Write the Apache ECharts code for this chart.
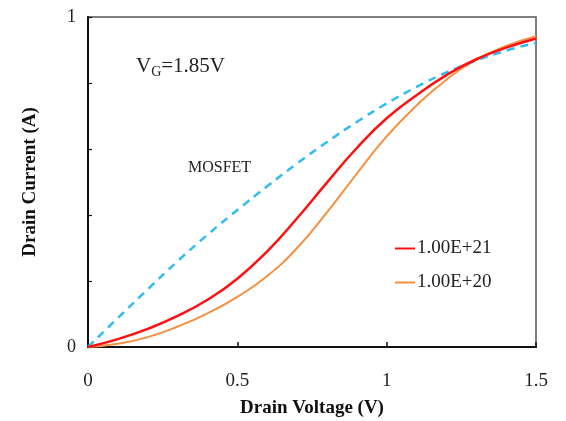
<!DOCTYPE html>
<html>
<head>
<meta charset="utf-8">
<script src="https://cdn.jsdelivr.net/npm/echarts@6/dist/echarts.min.js"></script>
<style>
  html, body { margin: 0; padding: 0; background: #fff; }
  #chart { width: 566px; height: 421px; }
</style>
</head>
<body>
<div id="chart"></div>
<script>
// drain voltage (V) sample points
const voltage = [0, 0.1, 0.2, 0.3, 0.4, 0.5, 0.6, 0.7, 0.8, 0.9, 1.0, 1.1, 1.2, 1.3, 1.4, 1.5];
// drain current, normalised
const mosfet = [0, 0.088, 0.175, 0.26, 0.34, 0.415, 0.487, 0.556, 0.621, 0.682, 0.738, 0.788, 0.832, 0.868, 0.898, 0.922];
const dop1e21 = [0, 0.024, 0.055, 0.094, 0.143, 0.207, 0.29, 0.39, 0.498, 0.603, 0.693, 0.763, 0.824, 0.872, 0.907, 0.935];
const dop1e20 = [0, 0.01, 0.03, 0.062, 0.102, 0.152, 0.215, 0.3, 0.408, 0.525, 0.638, 0.732, 0.81, 0.87, 0.912, 0.942];
const xTicks = ['0', '0.5', '1', '1.5'];
const yTicks = ['0', '1'];

const serif = '"Liberation Serif", "DejaVu Serif", serif';
const pairs = arr => voltage.map((v, i) => [v, arr[i]]);

const chart = echarts.init(document.getElementById('chart'));
chart.setOption({
  animation: false,
  textStyle: { fontFamily: serif },
  grid: {
    left: 88, right: 30, top: 17, bottom: 74,
    outerBoundsMode: 'none',
    show: true, borderColor: '#555', borderWidth: 1.5
  },
  legend: {
    data: ['1.00E+21', '1.00E+20'],
    orient: 'vertical',
    left: 390, top: 234,
    icon: 'rect',
    itemWidth: 20, itemHeight: 2,
    itemGap: 15,
    textStyle: { fontFamily: serif, fontSize: 19, color: '#222', padding: [0, 0, 0, -3] }
  },
  xAxis: {
    type: 'value', min: 0, max: 1.5, interval: 0.5,
    name: 'Drain Voltage (V)', nameLocation: 'middle', nameGap: 52,
    nameTextStyle: { fontFamily: serif, fontSize: 19, fontWeight: 'bold', color: '#111' },
    axisLine: { lineStyle: { color: '#111', width: 2 } },
    axisTick: { inside: true, length: 5, lineStyle: { color: '#111', width: 1.5 } },
    axisLabel: {
      margin: 25, fontFamily: serif, fontSize: 19, color: '#222',
      formatter: v => xTicks.find(t => Math.abs(parseFloat(t) - v) < 1e-6) || ''
    },
    splitLine: { show: false }
  },
  yAxis: {
    type: 'value', min: 0, max: 1, interval: 0.2,
    name: 'Drain Current (A)', nameLocation: 'middle', nameGap: 48,
    nameTextStyle: { fontFamily: serif, fontSize: 19, fontWeight: 'bold', color: '#111' },
    axisLine: { lineStyle: { color: '#111', width: 2 } },
    axisTick: { inside: true, length: 4, lineStyle: { color: '#111', width: 1.2 } },
    axisLabel: {
      margin: 12, fontFamily: serif, fontSize: 18, color: '#222',
      formatter: v => yTicks.find(t => Math.abs(parseFloat(t) - v) < 1e-6) || ''
    },
    splitLine: { show: false }
  },
  graphic: [
    {
      type: 'text', left: 136, top: 56,
      style: {
        text: '{a|V}{s|G}{a|=1.85V}',
        rich: {
          a: { fontFamily: serif, fontSize: 21, fill: '#222' },
          s: { fontFamily: serif, fontSize: 14, fill: '#222', padding: [12, 0, 0, 0] }
        }
      }
    },
    {
      type: 'text', left: 188, top: 160,
      style: { text: 'MOSFET', fontFamily: serif, fontSize: 16, fill: '#222' }
    }
  ],
  series: [
    {
      name: 'MOSFET', type: 'line', data: pairs(mosfet), smooth: true, showSymbol: false,
      lineStyle: { color: '#33bbf0', width: 2.5, type: [8, 6] }, z: 3
    },
    {
      name: '1.00E+21', type: 'line', data: pairs(dop1e21), smooth: true, showSymbol: false,
      itemStyle: { color: '#ff1010' }, lineStyle: { color: '#ff1010', width: 2.5 }, z: 4
    },
    {
      name: '1.00E+20', type: 'line', data: pairs(dop1e20), smooth: true, showSymbol: false,
      itemStyle: { color: '#f59040' }, lineStyle: { color: '#f59040', width: 2 }, z: 2
    }
  ]
});
</script>
</body>
</html>
